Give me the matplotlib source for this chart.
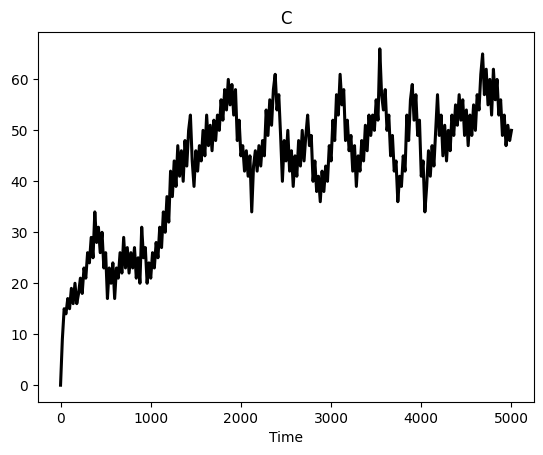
import matplotlib
matplotlib.use("Agg")
import matplotlib.pyplot as plt
import numpy as np

# time grid (step of 20) and the copy number
time = np.arange(0, 5001, 20)
count = np.array([
    0, 9, 15, 14, 17, 15, 19, 16, 20, 16,
    18, 21, 18, 23, 21, 26, 24, 29, 25, 34,
    28, 31, 26, 30, 23, 26, 17, 23, 20, 24,
    17, 23, 21, 26, 22, 29, 23, 27, 22, 26,
    23, 27, 21, 25, 20, 31, 25, 27, 20, 24,
    21, 26, 23, 28, 25, 31, 27, 34, 30, 37,
    32, 42, 37, 44, 39, 47, 41, 46, 40, 48,
    43, 50, 53, 44, 39, 46, 42, 47, 44, 50,
    45, 53, 47, 51, 46, 52, 48, 53, 50, 56,
    52, 58, 54, 60, 55, 59, 53, 58, 48, 52,
    45, 47, 42, 46, 41, 45, 34, 43, 46, 42,
    47, 43, 48, 45, 54, 49, 56, 51, 58, 61,
    54, 57, 49, 40, 48, 44, 50, 42, 46, 39,
    45, 41, 48, 43, 50, 44, 49, 53, 47, 49,
    40, 44, 38, 41, 36, 42, 38, 43, 40, 47,
    44, 52, 48, 57, 53, 61, 55, 58, 48, 52,
    46, 49, 42, 47, 39, 45, 42, 48, 44, 51,
    46, 53, 49, 53, 50, 56, 52, 66, 57, 54,
    58, 50, 53, 45, 49, 42, 44, 36, 41, 39,
    45, 42, 53, 48, 56, 59, 52, 57, 49, 52,
    41, 44, 34, 39, 46, 41, 47, 43, 50, 57,
    49, 53, 45, 51, 44, 50, 46, 53, 49, 55,
    51, 57, 52, 56, 49, 54, 47, 53, 49, 55,
    50, 57, 54, 61, 65, 57, 62, 55, 60, 53,
    62, 56, 60, 53, 56, 49, 53, 47, 51, 48,
    50,
])

fig = plt.figure(figsize=(5.43, 4.55), dpi=100)
ax = fig.add_axes([38 / 543, 53 / 455, 496 / 543, 370 / 455])

ax.plot(time, count, color='k', linewidth=2.2)
ax.set_xlabel('Time')
ax.set_title('C')

fig.savefig('out.png', dpi=100)
